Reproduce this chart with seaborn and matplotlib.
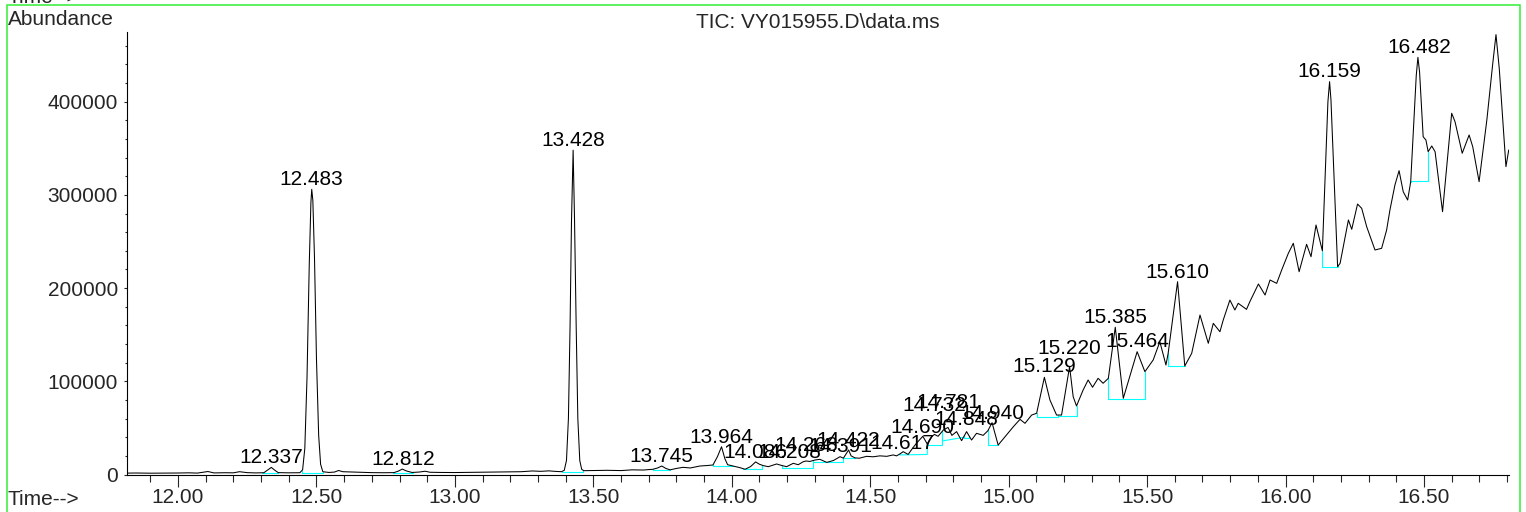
import numpy as np
import pandas as pd
import matplotlib
matplotlib.use('Agg')
import matplotlib.pyplot as plt
from matplotlib.ticker import MultipleLocator, FuncFormatter
from matplotlib.patches import Rectangle
import seaborn as sns

# TIC trace: retention time (min) and abundance
times = [
    11.816, 11.85, 11.90, 11.95, 12.00, 12.04, 12.07, 12.108, 12.13, 12.17,
    12.20, 12.222, 12.25, 12.28, 12.310, 12.325, 12.337, 12.350, 12.362, 12.40,
    12.440, 12.450, 12.458, 12.466, 12.474, 12.480, 12.483, 12.487, 12.493, 12.500,
    12.508, 12.515, 12.523, 12.545, 12.565, 12.580, 12.595, 12.63, 12.66, 12.70,
    12.74, 12.78, 12.797, 12.810, 12.825, 12.845, 12.87, 12.893, 12.91, 12.95,
    13.00, 13.05, 13.10, 13.15, 13.20, 13.24, 13.28, 13.31, 13.34, 13.36,
    13.385, 13.395, 13.403, 13.410, 13.416, 13.421, 13.427, 13.432, 13.438, 13.444,
    13.451, 13.458, 13.466, 13.50, 13.55, 13.60, 13.64, 13.68, 13.715, 13.732,
    13.747, 13.762, 13.777, 13.80, 13.824, 13.85, 13.885, 13.91, 13.932, 13.948,
    13.963, 13.975, 13.985, 14.005, 14.030, 14.048, 14.068, 14.086, 14.100, 14.114,
    14.132, 14.162, 14.180, 14.198, 14.222, 14.240, 14.258, 14.268, 14.282, 14.300,
    14.318, 14.343, 14.367, 14.391, 14.403, 14.422, 14.431, 14.445, 14.461, 14.487,
    14.510, 14.535, 14.560, 14.583, 14.595, 14.607, 14.619, 14.637, 14.655, 14.667,
    14.690, 14.706, 14.722, 14.732, 14.745, 14.765, 14.781, 14.795, 14.812, 14.830,
    14.848, 14.866, 14.884, 14.908, 14.925, 14.940, 14.962, 14.992, 15.017, 15.041,
    15.059, 15.083, 15.101, 15.129, 15.149, 15.173, 15.191, 15.220, 15.233, 15.245,
    15.269, 15.287, 15.303, 15.323, 15.341, 15.360, 15.385, 15.414, 15.464, 15.492,
    15.522, 15.546, 15.568, 15.576, 15.610, 15.636, 15.661, 15.691, 15.721, 15.739,
    15.763, 15.775, 15.799, 15.817, 15.829, 15.859, 15.871, 15.902, 15.926, 15.944,
    15.968, 15.986, 16.010, 16.028, 16.049, 16.076, 16.092, 16.110, 16.133, 16.153,
    16.159, 16.164, 16.188, 16.197, 16.227, 16.239, 16.260, 16.275, 16.293, 16.323,
    16.347, 16.365, 16.377, 16.395, 16.410, 16.425, 16.441, 16.452, 16.472, 16.478,
    16.484, 16.497, 16.507, 16.515, 16.528, 16.540, 16.567, 16.600, 16.612, 16.638,
    16.663, 16.676, 16.699, 16.727, 16.748, 16.760, 16.772, 16.796, 16.806,
]
abundance = [
    1500, 1600, 1400, 1500, 1600, 1800, 1500, 3200, 1700, 1900,
    1800, 3000, 2000, 1700, 1900, 5000, 7600, 4500, 2000, 1800,
    1900, 5000, 28000, 105000, 225000, 292000, 306000, 294000, 232000, 125000,
    42000, 11000, 3000, 2200, 2600, 4300, 3000, 2700, 2400, 2000,
    1900, 2000, 3800, 5800, 3800, 2200, 2600, 3500, 2400, 2200,
    2100, 2300, 2500, 2600, 2800, 3000, 3800, 3400, 3900, 3400,
    3000, 4500, 15000, 60000, 160000, 270000, 348000, 275000, 160000, 60000,
    15000, 5500, 4100, 4300, 4500, 4200, 5000, 4800, 5600, 7000,
    9100, 6500, 5000, 6500, 7700, 7000, 9100, 9600, 10200, 19000,
    29800, 17000, 10500, 9100, 7300, 5600, 8500, 13500, 11000, 9500,
    8400, 11300, 9700, 8400, 12000, 10500, 13700, 14500, 14000, 15500,
    16300, 13000, 15000, 19100, 17500, 26300, 20000, 17800, 17500, 19500,
    19000, 20000, 19500, 21000, 20000, 22000, 24500, 21500, 29000, 33500,
    41000, 32700, 40600, 43000, 41000, 48000, 50500, 42000, 46000, 36300,
    46000, 37000, 44200, 42000, 47000, 55600, 31600, 42400, 51300, 59200,
    54900, 63800, 65700, 104300, 80000, 63800, 63800, 115700, 83500, 73500,
    90700, 101400, 93600, 103200, 97900, 103200, 158000, 81800, 131800, 110300,
    122900, 142500, 117500, 130000, 206900, 116400, 130000, 171100, 140800, 162200,
    153200, 165800, 187200, 176500, 183700, 177200, 185400, 204400, 192600, 208700,
    205100, 219400, 237300, 248100, 217600, 247000, 233700, 267700, 240000, 400000,
    421500, 402000, 223000, 226600, 273100, 263100, 290200, 285600, 265900, 240900,
    242700, 262300, 283800, 310600, 326000, 303400, 294500, 314200, 428000, 447600,
    432000, 362400, 358900, 346400, 352500, 346400, 282000, 387600, 378600, 344700,
    364300, 351700, 314200, 380400, 440000, 472000, 435000, 330300, 348200,
]

# integration baselines (cyan): start/end time and baseline level at each end
base_t0 = [12.303, 12.447, 12.777, 13.386, 13.717, 13.933, 14.042, 14.180, 14.294, 14.403,
           14.607, 14.706, 14.761, 14.840, 14.926, 15.101, 15.179, 15.360, 15.576, 16.133, 16.452]
base_t1 = [12.361, 12.525, 12.849, 13.464, 13.777, 14.005, 14.110, 14.294, 14.403, 14.445,
           14.706, 14.761, 14.840, 14.858, 14.962, 15.179, 15.245, 15.492, 15.636, 16.190, 16.515]
base_y0 = [1800, 1800, 2000, 3000, 4300, 9100, 5600, 7300, 13700, 17400,
           21000, 31600, 36000, 38800, 31600, 62000, 63000, 81000, 116400, 223000, 315000]
base_y1 = [1800, 1800, 2000, 3000, 4300, 9100, 5600, 7300, 13700, 17400,
           21500, 31600, 40000, 38800, 31600, 62000, 63000, 81000, 116400, 223000, 315000]

# peak retention-time labels
peak_labels = ["12.337", "12.483", "12.812", "13.428", "13.745", "13.964", "14.086", "14.208",
               "14.268", "14.391", "14.422", "14.617", "14.690", "14.732", "14.781", "14.848",
               "14.940", "15.129", "15.220", "15.385", "15.464", "15.610", "16.159", "16.482"]
# how far (px) each label sits above its apex (some were pushed up to dodge neighbours)
label_lift = [4, 4, 4, 4, 4, 4, 4, 9,
              10, 5, 4, 3, 3, 23, 19, 7,
              4, 5, 13, 4, 5, 4, 5, 4]

FS = 15
W, H = 1526, 512


def px_to_pt(px):
    return px * 72 / 100


def main():
    sns.set_style('ticks')
    plt.rcParams['font.family'] = ['Liberation Sans', 'DejaVu Sans']

    fig = plt.figure(figsize=(W / 100, H / 100), dpi=100)
    ax = fig.add_axes([127 / W, 37.5 / H, (1509 - 127) / W, (474.5 - 32) / H])

    df = pd.DataFrame({'time': times, 'abundance': abundance})
    t = df['time'].to_numpy()
    y = df['abundance'].to_numpy()

    # integration baselines with their drop lines
    for t0, t1, b0, b1 in zip(base_t0, base_t1, base_y0, base_y1):
        xs = [t0, t0, t1, t1]
        ys = [np.interp(t0, t, y), b0, b1, np.interp(t1, t, y)]
        ax.plot(xs, ys, color='#00ffff', linewidth=0.8, zorder=2)

    sns.lineplot(data=df, x='time', y='abundance', color='black', linewidth=0.75,
                 estimator=None, sort=False, ax=ax, zorder=3)

    # peak labels
    for lbl, lift in zip(peak_labels, label_lift):
        rt = float(lbl)
        win = (t >= rt - 0.012) & (t <= rt + 0.012)
        top = y[win].max() if win.any() else np.interp(rt, t, y)
        ax.annotate(lbl, xy=(rt, top), xytext=(0, px_to_pt(lift)),
                    textcoords='offset points', ha='center', va='baseline',
                    fontsize=FS, color='black', zorder=4)

    ax.set_xlim(11.8158, 16.807)
    ax.set_ylim(0, 474800)
    ax.set_xlabel('')
    ax.set_ylabel('')

    ax.xaxis.set_major_locator(MultipleLocator(0.5))
    ax.xaxis.set_minor_locator(MultipleLocator(0.1))
    ax.xaxis.set_major_formatter(FuncFormatter(lambda v, p: f'{v:.2f}'))
    ax.yaxis.set_major_locator(MultipleLocator(100000))
    ax.yaxis.set_minor_locator(MultipleLocator(20000))
    ax.yaxis.set_major_formatter(FuncFormatter(lambda v, p: f'{int(round(v))}'))

    ax.tick_params(axis='x', which='major', length=8.4, width=0.8, pad=1, labelsize=FS)
    ax.tick_params(axis='x', which='minor', length=4.8, width=0.8)
    ax.tick_params(axis='y', which='major', length=2.4, width=0.8, pad=4, labelsize=FS)
    ax.tick_params(axis='y', which='minor', length=1.5, width=0.8)

    sns.despine(ax=ax)
    for s in ('left', 'bottom'):
        ax.spines[s].set_linewidth(0.8)
        ax.spines[s].set_color('black')
    ax.set_facecolor('white')

    ax.set_title('TIC: VY015955.D\\data.ms', fontsize=FS, pad=2)

    fig.text(8 / W, 1 - 25 / H, 'Abundance', fontsize=FS, ha='left', va='baseline')
    fig.text(8 / W, 1 - 505 / H, 'Time-->', fontsize=FS, ha='left', va='baseline')
    fig.text(8 / W, 1 - 3 / H, 'Time-->', fontsize=FS, ha='left', va='baseline')

    # green frame of the ChemStation window
    fig.add_artist(Rectangle((6.5 / W, -0.02), (1519.5 - 6.5) / W, (H - 5) / H + 0.02,
                             transform=fig.transFigure, fill=False,
                             edgecolor='#33ee33', linewidth=1.1, zorder=10))

    fig.savefig('out.png', dpi=100, facecolor='white')


if __name__ == '__main__':
    main()
